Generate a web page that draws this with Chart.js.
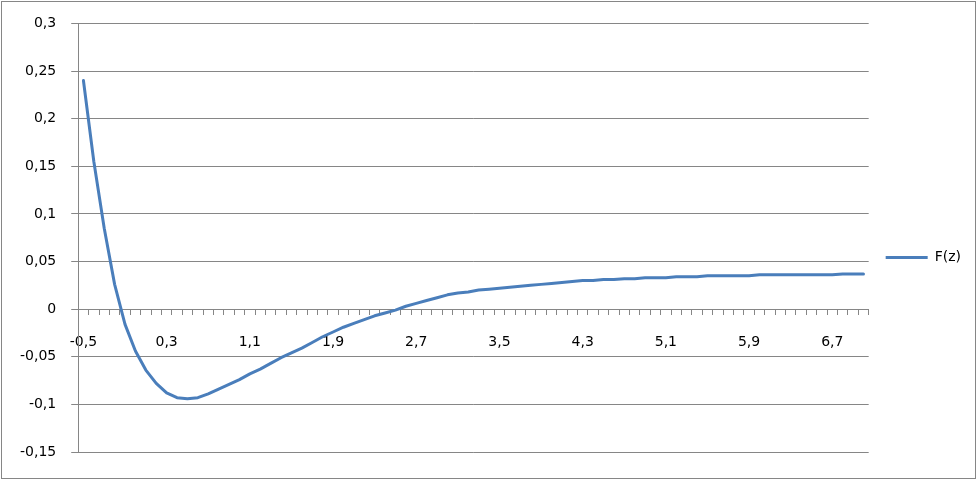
<!DOCTYPE html>
<html>
<head>
<meta charset="utf-8">
<script src="https://cdn.jsdelivr.net/npm/chart.js@4/dist/chart.umd.min.js"></script>
<style>
  html, body { margin: 0; padding: 0; background: #fff; }
  #wrap { width: 977px; height: 480px; }
</style>
</head>
<body>
<div id="wrap"><canvas id="fzChart" width="977" height="480"></canvas></div>
<script>
// z values (category axis)
const zLabels = [
    '-0,5', '-0,4', '-0,3', '-0,2', '-0,1', '0', '0,1', '0,2', '0,3', '0,4',
    '0,5', '0,6', '0,7', '0,8', '0,9', '1', '1,1', '1,2', '1,3', '1,4',
    '1,5', '1,6', '1,7', '1,8', '1,9', '2', '2,1', '2,2', '2,3', '2,4',
    '2,5', '2,6', '2,7', '2,8', '2,9', '3', '3,1', '3,2', '3,3', '3,4',
    '3,5', '3,6', '3,7', '3,8', '3,9', '4', '4,1', '4,2', '4,3', '4,4',
    '4,5', '4,6', '4,7', '4,8', '4,9', '5', '5,1', '5,2', '5,3', '5,4',
    '5,5', '5,6', '5,7', '5,8', '5,9', '6', '6,1', '6,2', '6,3', '6,4',
    '6,5', '6,6', '6,7', '6,8', '6,9', '7'
];

// F(z)
const fzValues = [
    0.240, 0.155, 0.085, 0.026, -0.016, -0.044, -0.064, -0.078, -0.088, -0.093,
    -0.094, -0.093, -0.089, -0.084, -0.079, -0.074, -0.068, -0.063, -0.057, -0.051,
    -0.046, -0.041, -0.035, -0.029, -0.024, -0.019, -0.015, -0.011, -0.007, -0.004,
    -0.001, 0.003, 0.006, 0.009, 0.012, 0.015, 0.017, 0.018, 0.020, 0.021,
    0.022, 0.023, 0.024, 0.025, 0.026, 0.027, 0.028, 0.029, 0.030, 0.030,
    0.031, 0.031, 0.032, 0.032, 0.033, 0.033, 0.033, 0.034, 0.034, 0.034,
    0.035, 0.035, 0.035, 0.035, 0.035, 0.036, 0.036, 0.036, 0.036, 0.036,
    0.036, 0.036, 0.036, 0.037, 0.037, 0.037
];

const yMin = -0.15;
const yMax = 0.3;
const yStep = 0.05;
const labelEvery = 8;

const axisGrey = '#868686';
const lineBlue = '#4a7ebb';
const fontFamily = '"DejaVu Sans", sans-serif';

// white background + outer frame like the spreadsheet chart area
const frame = {
    id: 'frame',
    beforeDraw(chart) {
        const ctx = chart.ctx;
        ctx.save();
        ctx.fillStyle = '#fff';
        ctx.fillRect(0, 0, chart.width, chart.height);
        ctx.restore();
    },
    afterDraw(chart) {
        const ctx = chart.ctx;
        ctx.save();
        ctx.strokeStyle = axisGrey;
        ctx.lineWidth = 1;
        ctx.strokeRect(1.5, 1.5, chart.width - 3, chart.height - 3);
        ctx.restore();
    }
};

function commaNum(v) {
    return String(Number(v.toFixed(2))).replace('.', ',');
}

const ctx = document.getElementById('fzChart').getContext('2d');
new Chart(ctx, {
    type: 'line',
    data: {
        labels: zLabels,
        datasets: [{
            label: 'F(z)',
            data: fzValues,
            borderColor: lineBlue,
            backgroundColor: lineBlue,
            borderWidth: 3,
            borderCapStyle: 'round',
            borderJoinStyle: 'round',
            pointRadius: 0,
            tension: 0,
            fill: false
        }]
    },
    plugins: [frame],
    options: {
        responsive: false,
        animation: false,
        layout: {
            padding: { left: 5, right: 6, top: 23, bottom: 28 }
        },
        plugins: {
            tooltip: { enabled: false },
            legend: {
                position: 'right',
                // empty title just pushes the entry down a bit
                title: {
                    display: true,
                    text: '',
                    padding: 0,
                    font: { size: 10, lineHeight: 4 }
                },
                labels: {
                    usePointStyle: true,
                    pointStyle: 'line',
                    pointStyleWidth: 42,
                    padding: 17,
                    color: '#000',
                    font: { family: fontFamily, size: 14 }
                }
            }
        },
        scales: {
            x: {
                type: 'category',
                position: { y: 0 },
                offset: true,
                grid: {
                    offset: true,
                    drawOnChartArea: false,
                    drawTicks: true,
                    tickLength: 5,
                    color: axisGrey
                },
                border: { display: true, color: axisGrey, width: 1 },
                ticks: {
                    autoSkip: false,
                    maxRotation: 0,
                    padding: 20,
                    color: '#000',
                    font: { family: fontFamily, size: 14 },
                    callback: function (val, idx) {
                        return idx % labelEvery === 0 ? this.getLabelForValue(val) : '';
                    }
                }
            },
            y: {
                min: yMin,
                max: yMax,
                grid: {
                    color: axisGrey,
                    tickLength: 7
                },
                border: { display: true, color: axisGrey, width: 1 },
                ticks: {
                    stepSize: yStep,
                    padding: 15,
                    color: '#000',
                    font: { family: fontFamily, size: 14 },
                    callback: (v) => commaNum(v)
                }
            }
        }
    }
});
</script>
</body>
</html>
